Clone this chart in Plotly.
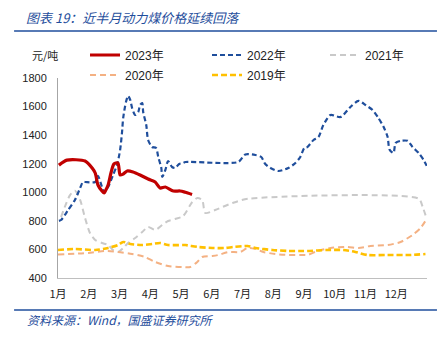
import plotly.graph_objects as go

# month positions (1 = Jan 1, 13 = end of Dec) and prices (元/吨)
x2023 = [1.03, 1.29, 1.88, 2.11, 2.21, 2.30, 2.43, 2.50, 2.53, 2.63, 2.73, 2.82, 2.95, 3.02, 3.12,
         3.25, 3.44, 3.67, 3.93, 4.16, 4.32, 4.49, 4.75, 4.97, 5.14, 5.36]
y2023 = [1190, 1225, 1219, 1170, 1135, 1051, 1009, 995, 1005, 1051, 1142, 1198, 1205, 1121, 1128,
         1149, 1142, 1121, 1093, 1072, 1030, 1037, 1009, 1009, 1000, 985]

x2022 = [1.03, 1.10, 1.33, 1.55, 1.72, 1.81, 1.88, 2.21, 2.30, 2.43, 2.50, 2.63, 2.79, 2.92, 3.02,
         3.08, 3.12, 3.21, 3.28, 3.35, 3.41, 3.51, 3.61, 3.67, 3.74, 3.77, 3.87, 3.93, 4.06, 4.19,
         4.26, 4.36, 4.39, 4.49, 4.58, 4.71, 4.81, 4.94, 5.07, 5.14, 6.86, 7.09, 7.42, 7.61, 7.74,
         7.91, 8.17, 8.49, 8.72, 8.88, 9.01, 9.11, 9.31, 9.47, 9.63, 9.86, 10.19, 10.51, 10.77,
         11.00, 11.23, 11.42, 11.59, 11.72, 11.78, 11.91, 11.98, 12.14, 12.37, 12.53, 12.73, 12.89, 12.99]
y2022 = [800, 806, 876, 946, 1030, 1072, 1072, 1072, 1115, 1037, 1002, 1037, 1121, 1191, 1296,
         1415, 1520, 1632, 1675, 1646, 1590, 1541, 1562, 1611, 1625, 1562, 1471, 1366, 1317, 1310,
         1247, 1170, 1107, 1156, 1219, 1177, 1170, 1198, 1205, 1212, 1212, 1265, 1261, 1247, 1198,
         1170, 1149, 1170, 1205, 1247, 1310, 1317, 1366, 1387, 1471, 1541, 1527, 1597, 1640,
         1611, 1576, 1520, 1457, 1387, 1300, 1275, 1345, 1360, 1360, 1317, 1275, 1226, 1185]

x2021 = [1.10, 1.39, 1.55, 1.72, 1.88, 2.04, 2.21, 2.43, 2.63, 2.79, 2.95, 3.12, 3.28, 3.51, 3.74,
         3.93, 4.16, 4.39, 4.58, 4.81, 5.07, 5.36, 5.53, 5.69, 5.79, 6.11, 6.67, 7.19, 12.73,
         12.86, 12.99]
y2021 = [827, 980, 1010, 946, 820, 715, 666, 645, 631, 596, 582, 610, 645, 680, 722,
         757, 736, 771, 799, 813, 834, 930, 960, 946, 855, 876, 925, 955, 955,
         897, 815]

x2020 = [1.00, 1.98, 2.53, 2.95, 3.41, 3.83, 4.16, 4.58, 5.04, 5.30, 5.53, 5.69, 6.02, 6.21, 6.54,
         6.93, 7.16, 7.42, 7.68, 8.07, 8.49, 8.95, 9.11, 9.44, 9.86, 10.41, 10.77, 11.16, 11.72,
         12.14, 12.53, 12.79, 12.99]
y2020 = [565, 575, 589, 582, 568, 547, 512, 484, 477, 477, 512, 547, 554, 561, 582,
         582, 610, 603, 582, 568, 561, 561, 561, 589, 610, 617, 610, 624, 631,
         652, 701, 750, 813]

x2019 = [1.00, 1.55, 2.21, 2.63, 2.95, 3.12, 3.35, 3.74, 4.06, 4.32, 4.58, 5.07, 5.14, 5.56, 6.02,
         6.44, 6.70, 7.16, 7.42, 7.97, 8.49, 8.95, 9.11, 9.76, 10.28, 10.67, 11.07, 11.72, 12.47,
         12.95]
y2019 = [596, 603, 596, 610, 631, 652, 638, 631, 638, 645, 631, 631, 631, 617, 610,
         610, 617, 624, 610, 596, 589, 589, 589, 596, 596, 582, 561, 561, 561,
         568]

month_vals = list(range(1, 13))
month_text = [f"{m}月" for m in month_vals]

# name, x, y, colour, width, dash, legend id, legend x (paper), legend y (paper)
series = [
    ("2021年", x2021, y2021, "#C9C9C9", 2.0, "6px,4px", "legend3", 0.7236, 1.115),
    ("2020年", x2020, y2020, "#F4B183", 2.0, "6px,4px", "legend4", 0.0732, 1.015),
    ("2019年", x2019, y2019, "#FFC000", 2.6, "6px,3px", "legend5", 0.4038, 1.015),
    ("2022年", x2022, y2022, "#1F4E9C", 2.2, "5px,3px", "legend2", 0.4038, 1.115),
    ("2023年", x2023, y2023, "#C00000", 3.2, "solid", "legend", 0.0732, 1.115),
]

font_num = "Liberation Sans, Arial, Noto Sans CJK SC, sans-serif"
cjk = "Noto Sans CJK SC, sans-serif"
blue = "#1F4E9C"

fig = go.Figure()
legends = {}
for name, xs, ys, col, w, dash, lg, lx, ly in series:
    fig.add_trace(go.Scatter(
        x=xs, y=ys, name=name, mode="lines", legend=lg,
        line=dict(color=col, width=w, dash=dash, shape="spline", smoothing=0.7),
    ))
    legends[lg] = dict(
        orientation="h", xref="paper", yref="paper", x=lx, y=ly,
        xanchor="left", yanchor="middle",
        font=dict(size=12, family=font_num, color="#222222"),
        bgcolor="rgba(0,0,0,0)", itemwidth=30, borderwidth=0,
    )

fig.update_layout(
    width=447, height=340,
    margin=dict(l=58, r=20, t=78, b=62),
    paper_bgcolor="white", plot_bgcolor="white",
    font=dict(family=font_num, size=11, color="#222222"),
    showlegend=True,
    **legends,
    xaxis=dict(
        range=[1, 13], tickmode="array", tickvals=month_vals, ticktext=month_text,
        showgrid=False, zeroline=False, showline=True, linecolor="#BFBFBF", linewidth=1,
        ticks="", tickfont=dict(size=11, family=cjk, color="#222222"), ticklabelstandoff=6,
    ),
    yaxis=dict(
        range=[400, 1800], tickmode="linear", tick0=400, dtick=200,
        showgrid=False, zeroline=False, showline=True, linecolor="#A6A6A6", linewidth=1,
        ticks="", tickfont=dict(size=11, color="#222222"), ticklabelstandoff=8,
    ),
    shapes=[
        dict(type="line", xref="paper", yref="paper", x0=-0.119, x1=1.027, y0=1.235, y1=1.235,
             line=dict(color=blue, width=1.5)),
        dict(type="line", xref="paper", yref="paper", x0=-0.119, x1=1.027, y0=-0.16, y1=-0.16,
             line=dict(color=blue, width=1.5)),
    ],
    annotations=[
        dict(text="<i>图表 19：近半月动力煤价格延续回落</i>", xref="paper", yref="paper",
             x=-0.092, y=1.305, xanchor="left", yanchor="middle", showarrow=False,
             font=dict(size=13, family=cjk, color=blue)),
        dict(text="元/吨", xref="paper", yref="paper", x=-0.076, y=1.115,
             xanchor="left", yanchor="middle", showarrow=False,
             font=dict(size=11, family=cjk, color="#222222")),
        dict(text="<i>资料来源：Wind，国盛证券研究所</i>", xref="paper", yref="paper",
             x=-0.089, y=-0.205, xanchor="left", yanchor="middle", showarrow=False,
             font=dict(size=12, family=cjk, color=blue)),
    ],
)

fig.write_html("out.html")
